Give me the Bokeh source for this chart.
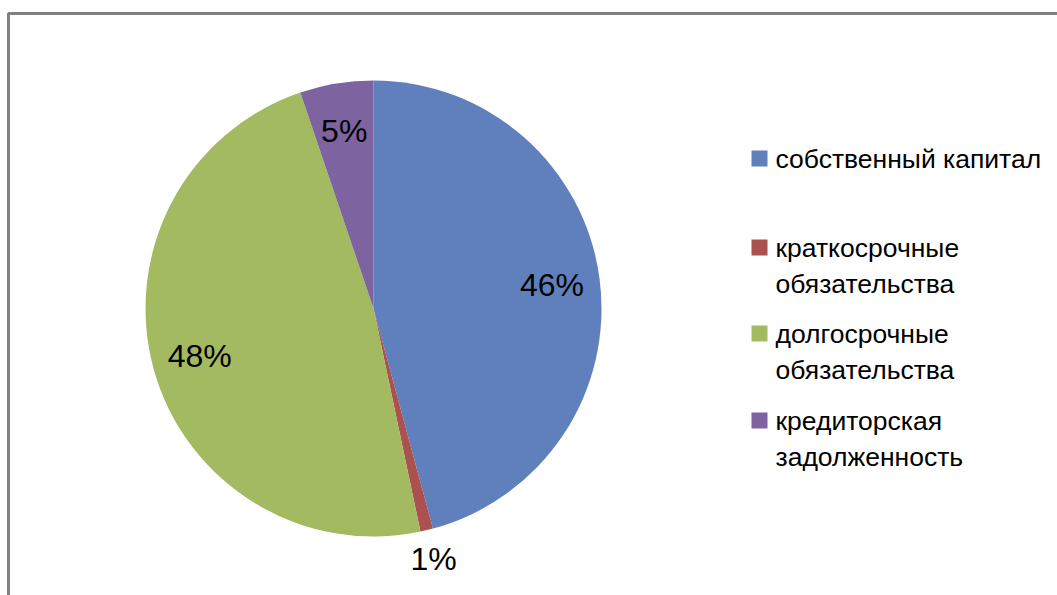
import numpy as np
from bokeh.plotting import figure
from bokeh.models import ColumnDataSource, BoxAnnotation
from bokeh.core.properties import value
from bokeh.embed import file_html
from bokeh.resources import INLINE

# ---- data ----
categories = ["собственный капитал", "краткосрочные\nобязательства",
              "долгосрочные\nобязательства", "кредиторская\nзадолженность"]
shares = [45.8, 0.9, 48.1, 5.2]
labels = ["46%", "1%", "48%", "5%"]
colors = ["#5F80BC", "#AB5150", "#A3BA61", "#7D63A0"]

# ---- layout (pixel space, y measured from top) ----
W, H = 1057, 595
CX, CY, R = 373, 308, 228
FONT = "Liberation Sans"

def fy(y):
    return H - y

vals = np.array(shares, dtype=float)
frac = vals / vals.sum()
cum_end = np.cumsum(frac)
cum_start = cum_end - frac
start = np.pi / 2 - 2 * np.pi * cum_start
end = np.pi / 2 - 2 * np.pi * cum_end
mid = 2 * np.pi * (cum_start + cum_end) / 2  # clockwise from top
rfac = np.where(frac < 0.03, 1.13, 0.79)
lx = CX + R * rfac * np.sin(mid)
ly = CY - R * rfac * np.cos(mid)

p = figure(width=W, height=H, x_range=(0, W), y_range=(0, H),
           output_backend="svg", toolbar_location=None, min_border=0)
p.axis.visible = False
p.grid.visible = False
p.outline_line_color = None
p.background_fill_color = "white"
p.border_fill_color = "white"

# outer chart frame
p.add_layout(BoxAnnotation(left=8, right=W + 20, top=fy(13), bottom=-20,
                           fill_alpha=0, line_color="#808080", line_alpha=1.0,
                           line_width=3))

src = ColumnDataSource(dict(start=start, end=end, color=colors))
p.wedge(x=CX, y=fy(CY), radius=R, start_angle="start", end_angle="end",
        direction="clock", fill_color="color", line_color=None, source=src)

lsrc = ColumnDataSource(dict(x=lx, y=[fy(v) for v in ly], text=labels))
p.text(x="x", y="y", text="text", source=lsrc, text_align="center",
       text_baseline="middle", text_font=value(FONT), text_font_size="32px",
       text_color="black")

# legend
LINE = 37
n_lines = np.array([c.count("\n") + 1 for c in categories])
first_line_y = np.array([158, 247, 333, 420], dtype=float)
block_center = first_line_y + (n_lines - 1) * LINE / 2
p.rect(x=[759] * len(categories), y=[fy(v) for v in first_line_y], width=16, height=16,
       fill_color=colors, line_color=None)
p.text(x=[775] * len(categories), y=[fy(v) for v in block_center], text=categories,
       text_align="left", text_baseline="middle", text_font=value(FONT),
       text_font_size="26.5px", text_color="black", text_line_height=1.23)

open("out.html", "w").write(file_html(p, INLINE))
